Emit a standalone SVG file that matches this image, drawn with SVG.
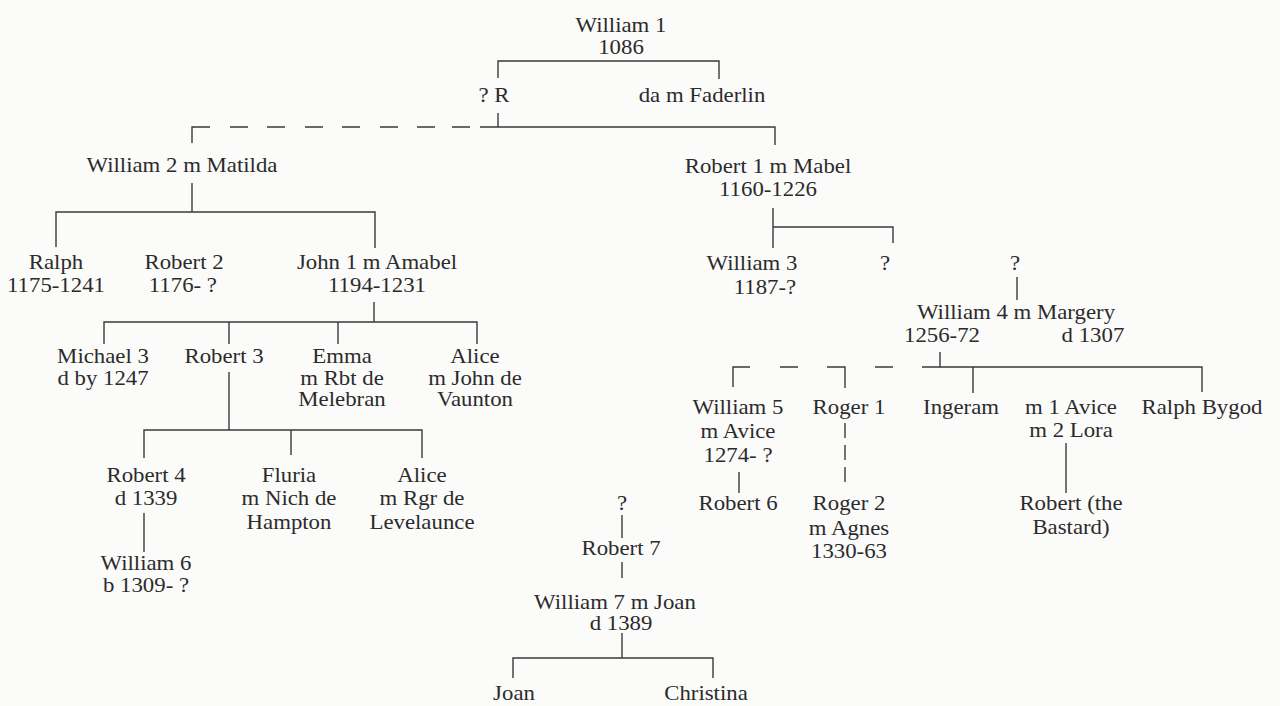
<svg xmlns="http://www.w3.org/2000/svg" width="1280" height="706" viewBox="0 0 1280 706">
<style>
.t{font-family:"Liberation Serif","Times New Roman",serif;font-size:20px;fill:#2b2b2b;text-anchor:middle}
.c{stroke:#3a3a3a;stroke-width:1.4;fill:none}
.d{stroke:#3a3a3a;stroke-width:1.4;fill:none;stroke-dasharray:15 7}
</style>
<rect width="1280" height="706" fill="#fbfbfa"/>
<g id="connectors">
<path class="c" d="M498 78V61H719V79"/>
<path class="c" d="M498 113V127"/>
<path class="c" d="M480 127H775V145"/>
<path class="c" d="M192 143V127H210M230 127H248M267 127H285M305 127H323M342 127H360M380 127H398M417 127H435M452 127H470"/>
<path class="c" d="M192 183V212"/>
<path class="c" d="M56 247V212H375V248"/>
<path class="c" d="M374 302V322"/>
<path class="c" d="M104 344V322H477V344M229 322V344M338 322V344"/>
<path class="c" d="M229 372V430"/>
<path class="c" d="M144 458V430H422V458M291 430V455"/>
<path class="c" d="M144 513V552"/>
<path class="c" d="M773 208V248M773 227H893V243"/>
<path class="c" d="M1017 277V300"/>
<path class="c" d="M940 352V367H1202V392M973 367V393"/>
<path class="c" d="M733 387V367H750M780 367H798M827 367H845V388M875 367H893M922 367H940"/>
<path class="c" d="M739 472V493"/>
<path class="d" d="M845 423V487"/>
<path class="c" d="M1066 443V493"/>
<path class="c" d="M622 515V538M622 562V578M622 633V658"/>
<path class="c" d="M513 678V658H713V678"/>
</g>
<g id="william1" transform="translate(621 0) scale(1.14 1)"><text class="t" x="0" y="32">William 1</text><text class="t" x="0" y="54">1086</text></g>
<g id="qr" transform="translate(494 0) scale(1.14 1)"><text class="t" x="0" y="102">? R</text></g>
<g id="da" transform="translate(702 0) scale(1.14 1)"><text class="t" x="0" y="102">da m Faderlin</text></g>
<g id="william2" transform="translate(182 0) scale(1.14 1)"><text class="t" x="0" y="172">William 2 m Matilda</text></g>
<g id="robert1" transform="translate(768 0) scale(1.14 1)"><text class="t" x="0" y="173">Robert 1 m Mabel</text><text class="t" x="0" y="196">1160-1226</text></g>
<g id="ralph" transform="translate(56 0) scale(1.14 1)"><text class="t" x="0" y="269">Ralph</text><text class="t" x="0" y="292">1175-1241</text></g>
<g id="robert2" transform="translate(184 0) scale(1.14 1)"><text class="t" x="0" y="269">Robert 2</text><text class="t" x="-1" y="292">1176- ?</text></g>
<g id="john1" transform="translate(377 0) scale(1.14 1)"><text class="t" x="0" y="269">John 1 m Amabel</text><text class="t" x="0" y="292">1194-1231</text></g>
<g id="michael3" transform="translate(103 0) scale(1.14 1)"><text class="t" x="0" y="363">Michael 3</text><text class="t" x="0" y="385">d by 1247</text></g>
<g id="robert3" transform="translate(224 0) scale(1.14 1)"><text class="t" x="0" y="363">Robert 3</text></g>
<g id="emma" transform="translate(342 0) scale(1.14 1)"><text class="t" x="0" y="363">Emma</text><text class="t" x="0" y="385">m Rbt de</text><text class="t" x="0" y="406">Melebran</text></g>
<g id="alice1" transform="translate(475 0) scale(1.14 1)"><text class="t" x="0" y="363">Alice</text><text class="t" x="0" y="385">m John de</text><text class="t" x="0" y="406">Vaunton</text></g>
<g id="robert4" transform="translate(146 0) scale(1.14 1)"><text class="t" x="0" y="482">Robert 4</text><text class="t" x="0" y="505">d 1339</text></g>
<g id="william6" transform="translate(146 0) scale(1.14 1)"><text class="t" x="0" y="570">William 6</text><text class="t" x="0" y="592">b 1309- ?</text></g>
<g id="fluria" transform="translate(289 0) scale(1.14 1)"><text class="t" x="0" y="482">Fluria</text><text class="t" x="0" y="505">m Nich de</text><text class="t" x="0" y="529">Hampton</text></g>
<g id="alice2" transform="translate(422 0) scale(1.14 1)"><text class="t" x="0" y="482">Alice</text><text class="t" x="0" y="505">m Rgr de</text><text class="t" x="0" y="529">Levelaunce</text></g>
<g id="william3" transform="translate(752 0) scale(1.14 1)"><text class="t" x="0" y="270">William 3</text><text class="t" x="11.4" y="294">1187-?</text></g>
<g id="unknown1" transform="translate(885 0) scale(1.14 1)"><text class="t" x="0" y="270">?</text></g>
<g id="unknown2" transform="translate(1015 0) scale(1.14 1)"><text class="t" x="0" y="270">?</text></g>
<g id="william4" transform="translate(1016 0) scale(1.14 1)"><text class="t" x="0" y="319">William 4 m Margery</text><text class="t" x="-64.9" y="342">1256-72</text><text class="t" x="67.5" y="342">d 1307</text></g>
<g id="william5" transform="translate(738 0) scale(1.14 1)"><text class="t" x="0" y="414">William 5</text><text class="t" x="0" y="438">m Avice</text><text class="t" x="0" y="462">1274- ?</text></g>
<g id="robert6" transform="translate(738 0) scale(1.14 1)"><text class="t" x="0" y="510">Robert 6</text></g>
<g id="roger1" transform="translate(849 0) scale(1.14 1)"><text class="t" x="0" y="414">Roger 1</text></g>
<g id="roger2" transform="translate(849 0) scale(1.14 1)"><text class="t" x="0" y="510">Roger 2</text><text class="t" x="0" y="535">m Agnes</text><text class="t" x="0" y="558">1330-63</text></g>
<g id="ingeram" transform="translate(961 0) scale(1.14 1)"><text class="t" x="0" y="414">Ingeram</text></g>
<g id="avice" transform="translate(1071 0) scale(1.14 1)"><text class="t" x="0" y="414">m 1 Avice</text><text class="t" x="0" y="437">m 2 Lora</text></g>
<g id="robertbastard" transform="translate(1071 0) scale(1.14 1)"><text class="t" x="0" y="510">Robert (the</text><text class="t" x="0" y="534">Bastard)</text></g>
<g id="ralphbygod" transform="translate(1202 0) scale(1.14 1)"><text class="t" x="0" y="414">Ralph Bygod</text></g>
<g id="unknown3" transform="translate(622 0) scale(1.14 1)"><text class="t" x="0" y="510">?</text></g>
<g id="robert7" transform="translate(621 0) scale(1.14 1)"><text class="t" x="0" y="555">Robert 7</text></g>
<g id="william7" transform="translate(615 0) scale(1.14 1)"><text class="t" x="0" y="609">William 7 m Joan</text><text class="t" x="5.3" y="630">d 1389</text></g>
<g id="joan" transform="translate(514 0) scale(1.14 1)"><text class="t" x="0" y="700">Joan</text></g>
<g id="christina" transform="translate(706 0) scale(1.14 1)"><text class="t" x="0" y="700">Christina</text></g>
</svg>
